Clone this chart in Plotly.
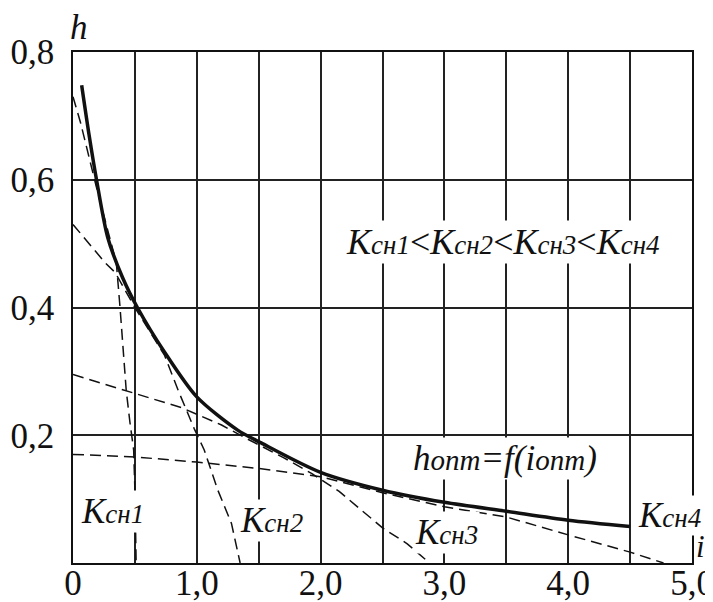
import plotly.graph_objects as go

# ---- data ----
i_opt = [0.07, 0.13, 0.19, 0.28, 0.40, 0.52, 0.74, 1.0, 1.33, 1.52, 2.0, 2.5, 3.0, 3.5, 4.0, 4.5]
h_opt = [0.748, 0.67, 0.60, 0.51, 0.447, 0.40, 0.33, 0.26, 0.208, 0.188, 0.142, 0.114, 0.095, 0.081, 0.067, 0.057]

k1_i = [0.0, 0.06, 0.2, 0.35, 0.38, 0.40, 0.43, 0.46, 0.49, 0.50, 0.51]
k1_h = [0.73, 0.69, 0.58, 0.47, 0.40, 0.35, 0.27, 0.22, 0.177, 0.114, 0.0]

k2_i = [0.0, 0.26, 0.34, 0.50, 0.74, 0.85, 0.98, 1.06, 1.17, 1.28, 1.35]
k2_h = [0.53, 0.47, 0.455, 0.40, 0.325, 0.27, 0.21, 0.177, 0.114, 0.062, 0.0]

k3_i = [0.0, 0.42, 0.88, 1.2, 1.4, 1.7, 1.93, 2.15, 2.35, 2.5, 2.7, 2.88]
k3_h = [0.295, 0.27, 0.243, 0.216, 0.195, 0.165, 0.14, 0.112, 0.08, 0.055, 0.03, 0.0]

k4_i = [0.0, 0.5, 1.0, 1.5, 2.0, 2.5, 3.0, 3.5, 4.0, 4.5, 4.77]
k4_h = [0.17, 0.166, 0.158, 0.148, 0.135, 0.11, 0.088, 0.072, 0.044, 0.017, 0.0]

x_tick_vals = [0, 0.5, 1.0, 1.5, 2.0, 2.5, 3.0, 3.5, 4.0, 4.5, 5.0]
x_tick_text = ["0", "", "1,0", "", "2,0", "", "3,0", "", "4,0", "", "5,0"]
y_tick_vals = [0.2, 0.4, 0.6, 0.8]
y_tick_text = ["0,2", "0,4", "0,6", "0,8"]

X_MAX, Y_MAX = 5.0, 0.8

FONT = "Liberation Serif"
INK = "#111111"

fig = go.Figure()
dash = "11px,6px"
for xs, ys in [(k1_i, k1_h), (k2_i, k2_h), (k3_i, k3_h), (k4_i, k4_h)]:
    fig.add_trace(go.Scatter(x=xs, y=ys, mode="lines",
                             line=dict(color=INK, width=1.5, dash=dash),
                             hoverinfo="skip", showlegend=False))
fig.add_trace(go.Scatter(x=i_opt, y=h_opt, mode="lines",
                         line=dict(color=INK, width=3.5, shape="spline", smoothing=0.8),
                         showlegend=False))

def K(n):
    return "<i>K<span style='font-size:27px'>сн%d</span></i>" % n

ann = [
    dict(x=0.32, y=0.081, text=K(1)),
    dict(x=1.60, y=0.067, text=K(2)),
    dict(x=3.02, y=0.047, text=K(3)),
    dict(x=4.82, y=0.074, text=K(4), borderpad=0),
    dict(x=3.47, y=0.502, text=K(1) + "<" + K(2) + "<" + K(3) + "<" + K(4), size=36),
    dict(x=3.49, y=0.164, text="<i>h<span style='font-size:29px'>опт</span>=f(i<span style='font-size:29px'>опт</span>)</i>"),
    dict(x=5.065, y=0.026, text="<i>i</i>", bgcolor="rgba(0,0,0,0)", borderpad=0, size=31),
    dict(x=0.05, y=0.839, text="<i>h</i>", bgcolor="rgba(0,0,0,0)"),
]
for a in ann:
    a.setdefault("bgcolor", "white")
    a.setdefault("borderpad", 1)
    size = a.pop("size", 35)
    a["x"] = a["x"] / X_MAX
    a["y"] = a["y"] / Y_MAX
    fig.add_annotation(xref="paper", yref="paper", showarrow=False,
                       xanchor="center", yanchor="middle",
                       font=dict(family=FONT, size=size, color=INK), **a)

axis_common = dict(showline=True, linecolor=INK, linewidth=1.5, mirror=True,
                   showgrid=True, gridcolor="#222222", gridwidth=1.5,
                   zeroline=False, ticks="", automargin=False,
                   ticklabeloverflow="allow",
                   tickfont=dict(family=FONT, size=35, color=INK))
fig.update_xaxes(range=[0, X_MAX], tickmode="array", tickvals=x_tick_vals,
                 ticktext=x_tick_text, ticklabelstandoff=-12, **axis_common)
fig.update_yaxes(range=[0, Y_MAX], tickmode="array", tickvals=y_tick_vals,
                 ticktext=y_tick_text, ticklabelstandoff=10, **axis_common)

# page body has an 8px default margin; size the figure so it fits the window
fig.update_layout(width=705, height=594, autosize=False,
                  margin=dict(l=65, r=21, t=44, b=39),
                  paper_bgcolor="white", plot_bgcolor="white",
                  font=dict(family=FONT))
fig.write_html("out.html")
